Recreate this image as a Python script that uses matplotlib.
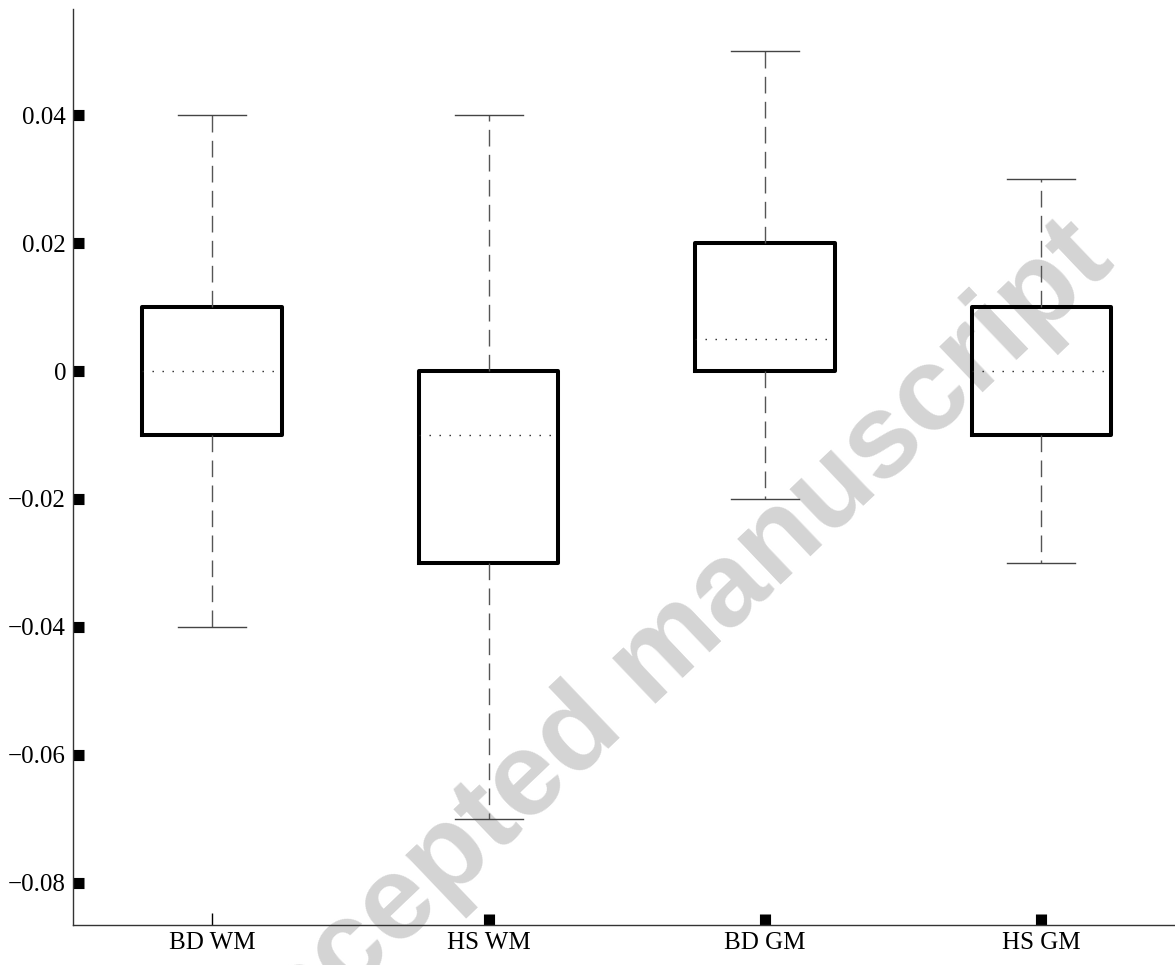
import matplotlib
matplotlib.use("Agg")
import matplotlib.pyplot as plt

categories = ["BD WM", "HS WM", "BD GM", "HS GM"]
whisker_low = [-0.04, -0.07, -0.02, -0.03]
q1 = [-0.01, -0.03, 0.0, -0.01]
median = [0.0, -0.01, 0.005, 0.0]
q3 = [0.01, 0.0, 0.02, 0.01]
whisker_high = [0.04, 0.04, 0.05, 0.03]
yticks = [-0.08, -0.06, -0.04, -0.02, 0, 0.02, 0.04]
ytick_labels = ["\u22120.08", "\u22120.06", "\u22120.04", "\u22120.02", "0", "0.02", "0.04"]

plt.rcParams['font.family'] = ['Liberation Serif', 'DejaVu Serif']

fig = plt.figure(figsize=(11.75, 9.65), dpi=100)
ax = fig.add_axes([73/1175, 1-925/965, 1-73/1175, (925-9)/965])
ax.patch.set_facecolor('none')

stats = []
for i, c in enumerate(categories):
    stats.append(dict(label=c, whislo=whisker_low[i], q1=q1[i], med=median[i],
                      q3=q3[i], whishi=whisker_high[i], fliers=[]))

ax.bxp(stats, positions=[1, 2, 3, 4], widths=0.506, capwidths=0.246,
       showfliers=False,
       boxprops=dict(color='black', linewidth=2.9, solid_joinstyle='round'),
       whiskerprops=dict(color='#555555', linewidth=1.0, linestyle=(0, (12, 6))),
       capprops=dict(color='#444444', linewidth=1.0),
       medianprops=dict(color='#222222', linewidth=1.0, linestyle=(0, (1, 6.2))))

ax.set_xlim(0.497, 4.483)
ax.set_ylim(-0.0866, 0.0566)

ax.set_yticks(yticks)
ax.set_yticklabels(ytick_labels)
ax.set_xticks([1, 2, 3, 4])
ax.set_xticklabels(categories)

ax.tick_params(axis='both', direction='in', length=8, width=8, color='black',
               labelsize=18, pad=5)
ax.tick_params(top=False, right=False)
t0 = ax.xaxis.get_major_ticks()[0]
t0.tick1line.set_markeredgewidth(1.0)
t0.tick1line.set_color('#555555')
t0.tick1line.set_markersize(9)

for s in ['top', 'right']:
    ax.spines[s].set_visible(False)
for s in ['left', 'bottom']:
    ax.spines[s].set_color('#333333')
    ax.spines[s].set_linewidth(1.0)

fig.text(656/1175, 1-662/965, "Accepted manuscript", rotation=43.6, ha='center', va='center',
         rotation_mode='anchor',
         fontsize=86, fontweight='bold', color='#d4d4d4',
         family=['Liberation Sans', 'DejaVu Sans'], zorder=-1)

fig.savefig("out.png", dpi=100)
